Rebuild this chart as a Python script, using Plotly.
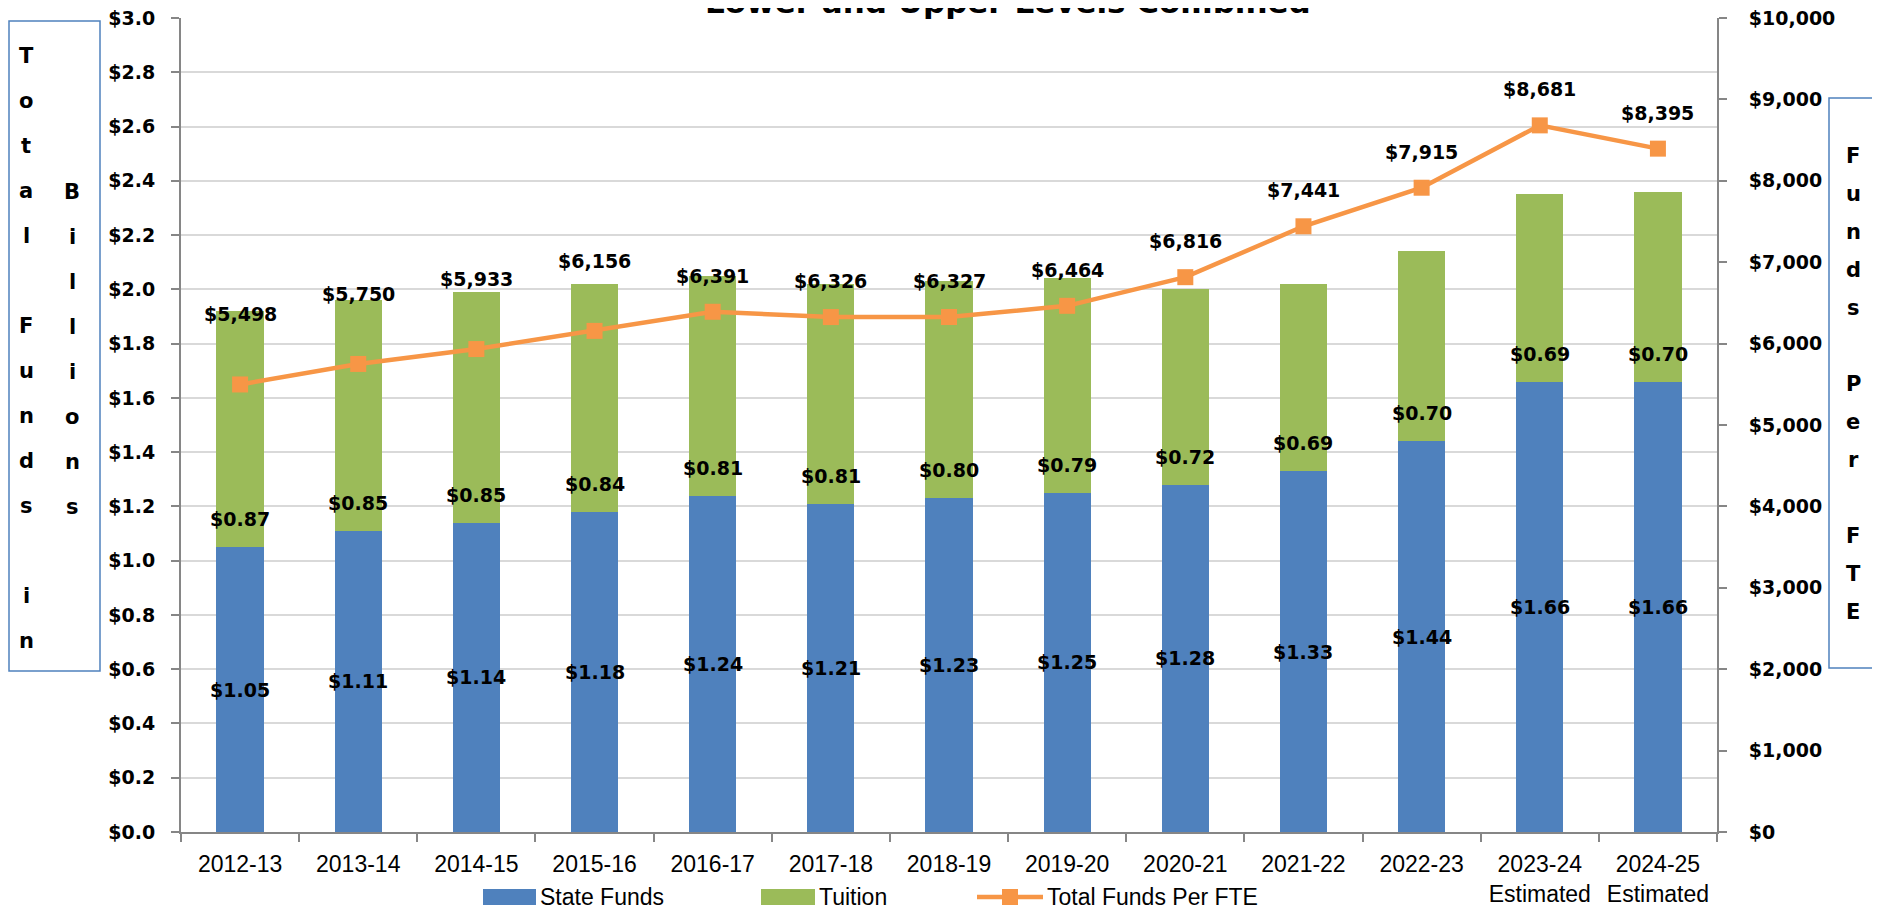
import plotly.graph_objects as go

# ---------------- data ----------------
categories = ["2012-13", "2013-14", "2014-15", "2015-16", "2016-17", "2017-18",
              "2018-19", "2019-20", "2020-21", "2021-22", "2022-23", "2023-24", "2024-25"]
category_notes = ["", "", "", "", "", "", "", "", "", "", "", "Estimated", "Estimated"]
state_funds = [1.05, 1.11, 1.14, 1.18, 1.24, 1.21, 1.23, 1.25, 1.28, 1.33, 1.44, 1.66, 1.66]
tuition = [0.87, 0.85, 0.85, 0.84, 0.81, 0.81, 0.80, 0.79, 0.72, 0.69, 0.70, 0.69, 0.70]
funds_per_fte = [5498, 5750, 5933, 6156, 6391, 6326, 6327, 6464, 6816, 7441, 7915, 8681, 8395]

title_text = "Lower and Upper Levels Combined"
left_title = "Total Funds in"
left_title2 = "Billions"
right_title = "Funds Per FTE"
legend_names = ["State Funds", "Tuition", "Total Funds Per FTE"]

# ---------------- style / layout ----------------
OFF = 8                      # browser body margin
PAGE_W, PAGE_H = 1880, 910
W, H = PAGE_W - OFF, PAGE_H - OFF
L, R, T, B = 181, 1717, 18, 832   # plot area in page pixels
BLUE, GREEN, ORANGE = "#4F81BD", "#9BBB59", "#F79646"
AXIS_C, GRID_C = "#868686", "#D9D9D9"
BOLD = dict(family="DejaVu Sans", size=19, color="black", weight="bold")
NARROW = dict(family="Liberation Sans, Arial, sans-serif", size=23, color="black")
fte_label_shift = [70, 70, 70, 70, 36, 36, 36, 36, 36, 36, 36, 36, 36]
tuition_label_shift = 28


def fx(px):
    return (px - L) / (R - L)


def fy(py):
    return (B - py) / (B - T)


tick_text = [c if n == "" else f"{c}<br>{n}" for c, n in zip(categories, category_notes)]

fig = go.Figure()
fig.add_trace(go.Bar(x=categories, y=state_funds, name=legend_names[0],
                     marker=dict(color=BLUE, line=dict(width=0)), showlegend=False))
fig.add_trace(go.Bar(x=categories, y=tuition, name=legend_names[1],
                     marker=dict(color=GREEN, line=dict(width=0)), showlegend=False))
fig.add_trace(go.Scatter(x=categories, y=funds_per_fte, name=legend_names[2], yaxis="y2",
                         mode="lines+markers",
                         line=dict(color=ORANGE, width=4.5),
                         marker=dict(symbol="square", size=16, color=ORANGE),
                         showlegend=False))

annotations = []
for c, s, t, f, sh in zip(categories, state_funds, tuition, funds_per_fte, fte_label_shift):
    annotations.append(dict(x=c, y=s / 2, xref="x", yref="y", text=f"${s:.2f}",
                            showarrow=False, font=BOLD, yanchor="middle"))
    annotations.append(dict(x=c, y=s, xref="x", yref="y", text=f"${t:.2f}",
                            showarrow=False, font=BOLD, yanchor="middle",
                            yshift=tuition_label_shift))
    annotations.append(dict(x=c, y=f, xref="x", yref="y2", text=f"${f:,}",
                            showarrow=False, font=BOLD, yanchor="middle", yshift=sh))

# title (cut off at the top as in the reference)
annotations.append(dict(x=fx(1008), y=fy(14.3 + OFF), xref="paper", yref="paper",
                        text=title_text, showarrow=False, xanchor="center", yanchor="bottom",
                        font=dict(family="DejaVu Sans", size=31, color="black", weight="bold")))

LETTER = dict(family="DejaVu Sans", size=21, color="black", weight="bold")
# left stacked title
for k, ch in enumerate(left_title):
    if ch.strip():
        annotations.append(dict(x=fx(26), y=fy(56 + 45 * k), xref="paper", yref="paper",
                                text=ch, showarrow=False, font=LETTER,
                                xanchor="center", yanchor="middle"))
for k, ch in enumerate(left_title2):
    annotations.append(dict(x=fx(72), y=fy(349.5 + 45 * (k - 3.5)), xref="paper", yref="paper",
                            text=ch, showarrow=False, font=LETTER,
                            xanchor="center", yanchor="middle"))
n_r = len(right_title)
for k, ch in enumerate(right_title):
    if ch.strip():
        annotations.append(dict(x=fx(1853), y=fy(384 + 38 * (k - (n_r - 1) / 2)),
                                xref="paper", yref="paper",
                                text=ch, showarrow=False, font=LETTER,
                                xanchor="center", yanchor="middle"))

# custom legend
legend_y = 897
leg = [(483, 536, legend_names[0], BLUE, "bar"),
       (761, 815, legend_names[1], GREEN, "bar"),
       (977, 1043, legend_names[2], ORANGE, "line")]
shapes = []
for x0, x1, name, col, kind in leg:
    if kind == "bar":
        shapes.append(dict(type="rect", xref="paper", yref="paper",
                           x0=fx(x0), x1=fx(x1), y0=fy(legend_y + 8), y1=fy(legend_y - 8),
                           fillcolor=col, line=dict(width=0)))
    else:
        shapes.append(dict(type="line", xref="paper", yref="paper",
                           x0=fx(x0), x1=fx(x1), y0=fy(legend_y), y1=fy(legend_y),
                           line=dict(color=col, width=4.5)))
        xm = (x0 + x1) / 2
        shapes.append(dict(type="rect", xref="paper", yref="paper",
                           x0=fx(xm - 8), x1=fx(xm + 8), y0=fy(legend_y + 8), y1=fy(legend_y - 8),
                           fillcolor=col, line=dict(width=0)))
    annotations.append(dict(x=fx(x1 + 3), y=fy(legend_y), xref="paper", yref="paper",
                            text=name, showarrow=False, font=NARROW,
                            xanchor="left", yanchor="middle", borderpad=0))

# axis-title boxes
shapes.append(dict(type="rect", xref="paper", yref="paper",
                   x0=fx(OFF + 1), x1=fx(100), y0=fy(671), y1=fy(21),
                   line=dict(color=BLUE, width=1.5), fillcolor="rgba(0,0,0,0)"))
shapes.append(dict(type="rect", xref="paper", yref="paper",
                   x0=fx(1829), x1=fx(1877), y0=fy(668), y1=fy(98),
                   line=dict(color=BLUE, width=1.5), fillcolor="rgba(0,0,0,0)"))

fig.update_layout(
    width=W, height=H,
    margin=dict(l=L - OFF, r=PAGE_W - R, t=T - OFF, b=PAGE_H - B, pad=0, autoexpand=False),
    paper_bgcolor="white", plot_bgcolor="white",
    barmode="stack", bargap=0.6,
    showlegend=False,
    xaxis=dict(type="category", tickmode="array", tickvals=categories, ticktext=tick_text,
               range=[-0.5, len(categories) - 0.5],
               showline=True, linecolor=AXIS_C, linewidth=2, automargin=False,
               ticks="outside", tickson="boundaries", ticklen=8, tickcolor=AXIS_C, tickwidth=2,
               tickfont=NARROW, tickangle=0, showgrid=False, ticklabelstandoff=10),
    yaxis=dict(range=[0, 3], dtick=0.2, tick0=0, tickprefix="$", tickformat=".1f",
               showgrid=True, gridcolor=GRID_C, gridwidth=1.5, zeroline=False,
               showline=True, linecolor=AXIS_C, linewidth=2, automargin=False,
               ticks="outside", ticklen=8, tickcolor=AXIS_C, tickwidth=2,
               tickfont=BOLD, ticklabelstandoff=12, ticklabeloverflow="allow"),
    yaxis2=dict(range=[0, 10000], dtick=1000, tick0=0, tickprefix="$", tickformat=",d",
                overlaying="y", side="right", showgrid=False, zeroline=False,
                showline=True, linecolor=AXIS_C, linewidth=2, automargin=False,
                ticks="outside", ticklen=8, tickcolor=AXIS_C, tickwidth=2,
                tickfont=BOLD, ticklabelstandoff=18, ticklabeloverflow="allow"),
    annotations=annotations, shapes=shapes,
)

fig.write_html("out.html")
